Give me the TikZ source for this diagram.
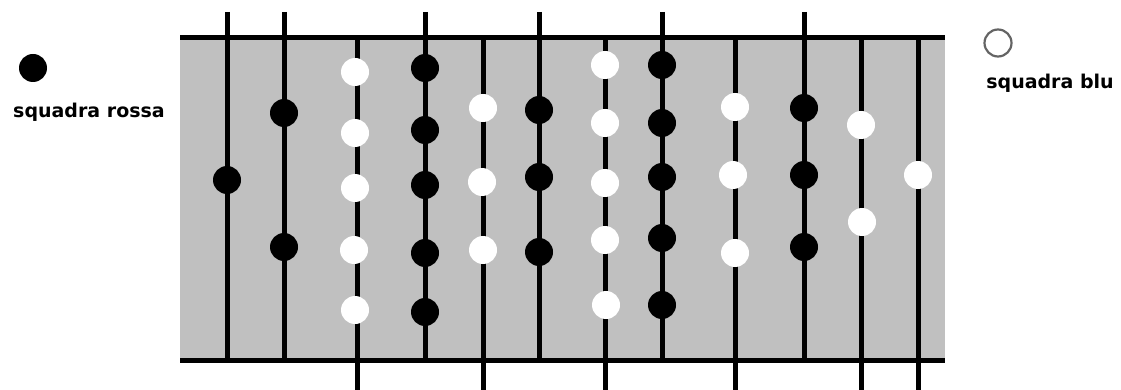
\documentclass[tikz,border=0pt]{standalone}
\usepackage{fontspec}
\setmainfont{DejaVu Sans}
\definecolor{tavolo}{RGB}{192,192,192}
\definecolor{bordo}{RGB}{100,100,100}
\begin{document}
\begin{tikzpicture}[x=1pt,y=-1pt,line join=round,font=\bfseries\fontsize{19}{19}\selectfont,
	asta/.style={line width=5pt},
	rossa/.style={fill=black},
	blu/.style={fill=white}]
	\def\xl{180} \def\xr{945} \def\yt{38} \def\yb{360} \def\r{14}
	\useasboundingbox (0,0) rectangle (1121,390);
	\fill[tavolo] (\xl,\yt) rectangle (\xr,\yb);
	\draw[asta] (\xl,\yt)--(\xr,\yt) (\xl,\yb)--(\xr,\yb);
	% aste che escono sopra / sotto
	\foreach \x in {227,284,425,539,662,804} \draw[asta] (\x,12)--(\x,\yb);
	\foreach \x in {357,483,605,735,861,918} \draw[asta] (\x,\yt)--(\x,390);
	% palline
	\foreach \x/\y in {227/180,284/113,284/247,425/68,425/130,425/185,425/253,425/312,539/110,539/177,539/252,
		662/65,662/123,662/177,662/238,662/305,804/108,804/175,804/247}
		\fill[rossa] (\x,\y) circle (\r);
	\foreach \x/\y in {355/72,355/133,355/188,354/250,355/310,483/108,482/182,483/250,
		605/65,605/123,605/183,605/240,606/305,735/107,733/175,735/253,861/125,862/222,918/175}
		\fill[blu] (\x,\y) circle (\r);
	% legenda
	\fill[rossa] (33,68) circle (\r);
	\node (rossa) at (89,112) {squadra rossa};
	\draw[bordo,line width=2.2pt] (998,43) circle (13.5);
	\node (blu) at (1050,83) {squadra blu};
\end{tikzpicture}
\end{document}
